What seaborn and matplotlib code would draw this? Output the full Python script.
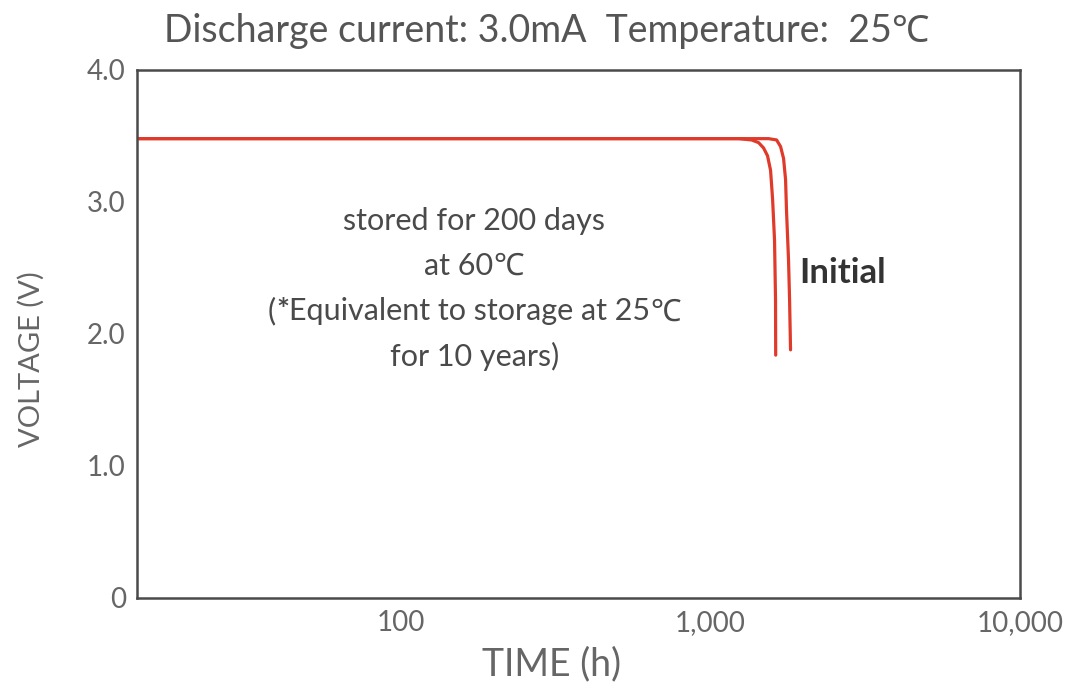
import matplotlib
matplotlib.use("Agg")
import matplotlib.pyplot as plt
import seaborn as sns
import pandas as pd
from matplotlib.offsetbox import TextArea, HPacker, VPacker, AnnotationBbox
from matplotlib.ticker import FixedLocator, FixedFormatter, NullLocator

# ---- data ----
stored_time = [14, 300, 1000, 1234, 1359, 1431, 1485, 1530, 1565, 1589, 1612, 1624, 1626]
stored_volt = [3.48, 3.48, 3.48, 3.48, 3.47, 3.45, 3.41, 3.35, 3.24, 3.02, 2.71, 2.26, 1.84]
initial_time = [14, 300, 1000, 1542, 1637, 1686, 1724, 1750, 1762, 1789, 1803, 1816]
initial_volt = [3.48, 3.48, 3.48, 3.48, 3.47, 3.42, 3.33, 3.17, 2.94, 2.56, 2.26, 1.88]
x_ticks = [100, 1000, 10000]
x_tick_labels = ["100", "1,000", "10,000"]
y_ticks = [0, 1, 2, 3, 4]
y_tick_labels = ["0", "1.0", "2.0", "3.0", "4.0"]
title_text = "Discharge current: 3.0mA  Temperature:  25\u2103"

sns.set_theme(style="white")
FAM = ["Lato", "Noto Sans", "DejaVu Sans"]
plt.rcParams["font.family"] = FAM

df = pd.concat([
    pd.DataFrame({"time": stored_time, "volt": stored_volt, "series": "stored"}),
    pd.DataFrame({"time": initial_time, "volt": initial_volt, "series": "initial"}),
])

fig = plt.figure(figsize=(10.7, 6.91), dpi=100)
ax = fig.add_axes([0.128, 0.1346, 0.825, 0.7641])
red = "#df3a2a"
sns.lineplot(data=df, x="time", y="volt", hue="series", palette={"stored": red, "initial": red},
             estimator=None, sort=False, linewidth=2.3, legend=False, ax=ax,
             solid_joinstyle="round", solid_capstyle="round")

ax.set_xscale("log")
ax.set_xlim(14, 10000)
ax.set_ylim(0, 4)
ax.xaxis.set_major_locator(FixedLocator(x_ticks))
ax.xaxis.set_major_formatter(FixedFormatter(x_tick_labels))
ax.xaxis.set_minor_locator(NullLocator())
ax.yaxis.set_major_locator(FixedLocator(y_ticks))
ax.yaxis.set_major_formatter(FixedFormatter(y_tick_labels))

spine_c = "#4a4a4a"
for s in ax.spines.values():
    s.set_color(spine_c)
    s.set_linewidth(1.8)
    s.set_visible(True)
ax.tick_params(axis="both", direction="in", length=9, width=1.6, color=spine_c,
               labelsize=20, labelcolor="#666666", pad=8)
ax.tick_params(axis="x", pad=9)

ax.set_xlabel("TIME (h)", fontsize=27, color="#666666")
ax.xaxis.set_label_coords(0.47, -0.092)
ax.set_ylabel("VOLTAGE (V)", fontsize=21, color="#666666")
ax.yaxis.set_label_coords(-0.104, 0.453)
fig.text(0.511, 0.955, title_text, ha="center", va="center", fontsize=27, color="#555555")

# annotation with mixed weights
tc = "#4a4a4a"
fs = 22
def line(parts):
    return HPacker(children=[TextArea(t, textprops=dict(fontsize=fs, color=tc, fontweight=w, family=FAM))
                             for t, w in parts], align="baseline", pad=0, sep=0)
lines = [
    line([("stored for 200 days", "normal")]),
    line([("at 60", "normal"), ("\u2103", "bold")]),
    line([("(", "normal"), ("*", "bold"), ("Equivalent to storage at 25", "normal"), ("\u2103", "bold")]),
    line([("for 10 years)", "normal")]),
]
vp = VPacker(children=lines, align="center", pad=0, sep=12)
ab = AnnotationBbox(vp, (0.382, 0.585), xycoords="axes fraction", frameon=False, box_alignment=(0.5, 0.5))
ax.add_artist(ab)

ax.text(0.75, 0.615, "Initial", transform=ax.transAxes, fontsize=25, fontweight="bold",
        color="#333333", ha="left", va="center")

fig.savefig("out.png", dpi=100)
